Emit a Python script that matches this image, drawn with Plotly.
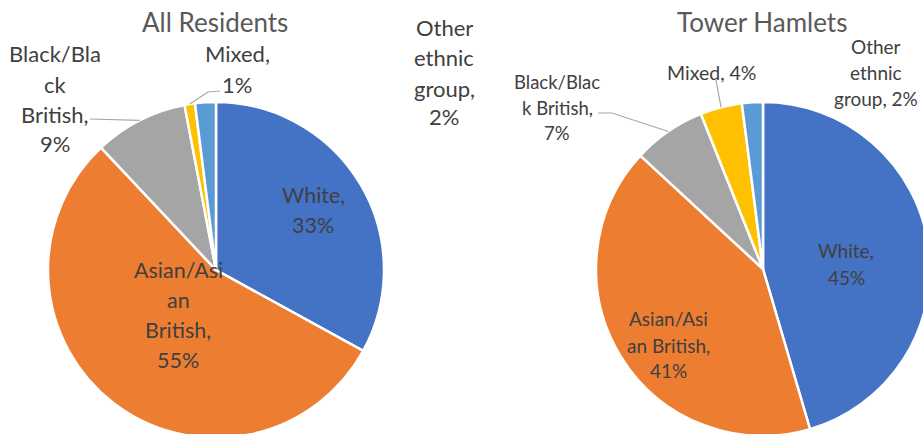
import math
import plotly.graph_objects as go

# Ethnic group shares (%)
groups = ["White", "Asian/Asian British", "Black/Black British", "Mixed", "Other ethnic group"]
all_residents = [33, 55, 9, 1, 2]
tower_hamlets = [45, 41, 7, 4, 2]
colors = ["#4472C4", "#ED7D31", "#A5A5A5", "#FFC000", "#5B9BD5"]

W, H = 960, 460          # canvas in px (right pie runs past the viewport edge)
FONT = "Lato"
TXT = "#404040"
TITLE = "#595959"
LEAD = "#A6A6A6"

# pie centres / radii in px
pies = [
    dict(name="All Residents", values=all_residents, cx=216, cy=270, r=168),
    dict(name="Tower Hamlets", values=tower_hamlets, cx=763, cy=269, r=167),
]


def px(x):
    return x / W


def py(y):
    return 1 - y / H


def edge_point(p, idx):
    """Point on the rim at the middle of slice idx (clockwise from 12 o'clock)."""
    tot = sum(p["values"])
    start = sum(p["values"][:idx]) / tot * 360
    mid = math.radians(start + p["values"][idx] / tot * 360 / 2)
    return p["cx"] + p["r"] * math.sin(mid), p["cy"] - p["r"] * math.cos(mid)


fig = go.Figure()
for p in pies:
    fig.add_trace(go.Pie(
        labels=groups, values=p["values"], sort=False, direction="clockwise",
        rotation=0, textinfo="none", hoverinfo="label+percent",
        marker=dict(colors=colors, line=dict(color="white", width=2.5)),
        domain=dict(x=[px(p["cx"] - p["r"]), px(p["cx"] + p["r"])],
                    y=[py(p["cy"] + p["r"]), py(p["cy"] - p["r"])]),
        showlegend=False,
    ))

annotations = []


def label(lines, x, ys, size, color=TXT):
    for text, y in zip(lines, ys):
        annotations.append(dict(
            x=px(x), y=py(y), xref="paper", yref="paper", text=text,
            showarrow=False, xanchor="center", yanchor="middle",
            font=dict(family=FONT, size=size, color=color)))


# titles
label(["All Residents"], 215, [22], 26, TITLE)
label(["Tower Hamlets"], 762, [22], 26, TITLE)

# All Residents labels
v = all_residents
label(["White,", f"{v[0]}%"], 313, [195, 225], 21.5)
label(["Asian/Asi", "an", "British,", f"{v[1]}%"], 178, [270, 300, 330, 360], 21.5)
label(["Black/Bla", "ck", "British,", f"{v[2]}%"], 55, [53, 84, 114, 143], 22)
label(["Mixed,", f"{v[3]}%"], 237, [53, 85], 22)
label(["Other", "ethnic", "group,", f"{v[4]}%"], 444, [28, 58, 88, 117], 22)

# Tower Hamlets labels
v = tower_hamlets
label(["White,", f"{v[0]}%"], 846, [250, 277], 19)
label(["Asian/Asi", "an British,", f"{v[1]}%"], 668, [318, 345, 370], 19)
label(["Black/Blac", "k British,", f"{v[2]}%"], 557, [82, 108, 133], 18.5)
label([f"Mixed, {v[3]}%"], 712, [72], 19.5)
label(["Other", "ethnic", f"group, {v[4]}%"], 876, [47, 72, 98], 19)

# leader lines: label anchor -> rim of the slice
shapes = []


def leader(points):
    path = "M " + " L ".join(f"{px(x)},{py(y)}" for x, y in points)
    shapes.append(dict(type="path", path=path, xref="paper", yref="paper",
                       line=dict(color=LEAD, width=1.2)))


leader([(90, 119), edge_point(pies[0], 2)])
leader([(220, 91), (208, 92), edge_point(pies[0], 3)])
leader([(598, 113), (612, 113), edge_point(pies[1], 2)])
leader([(716, 80), edge_point(pies[1], 3)])

fig.update_layout(
    width=W, height=H, autosize=False,
    margin=dict(l=0, r=0, t=0, b=0),
    paper_bgcolor="white", plot_bgcolor="white",
    annotations=annotations, shapes=shapes,
)

fig.write_html(
    "out.html",
    config={"displayModeBar": False},
    post_script="document.body.style.margin='0';document.body.style.overflow='hidden';",
)
